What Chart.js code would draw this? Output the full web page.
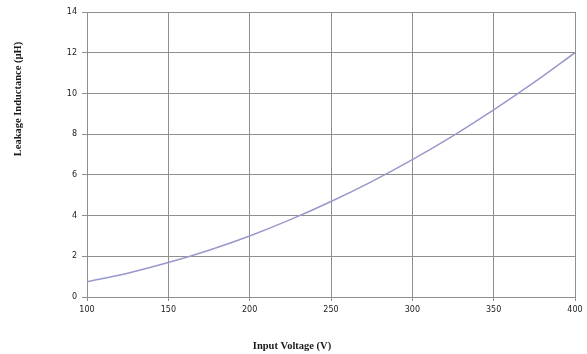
<!DOCTYPE html>
<html>
<head>
<meta charset="utf-8">
<script src="https://cdn.jsdelivr.net/npm/chart.js@4.4.1/dist/chart.umd.min.js"></script>
<style>
  html, body { margin: 0; padding: 0; background: #fff; }
  #wrap { width: 587px; height: 354px; }
</style>
</head>
<body>
<div id="wrap"><canvas id="myChart"></canvas></div>
<script>
// input voltage (V) and leakage inductance (uH)
var voltage = [100, 125, 150, 175, 200, 225, 250, 275, 300, 325, 350, 375, 400];
var inductance = [0.75, 1.17, 1.69, 2.30, 3.0, 3.80, 4.69, 5.67, 6.75, 7.92, 9.19, 10.55, 12.0];

var xTitle = "Input Voltage (V)";
var yTitle = "Leakage Inductance (\u00b5H)";

var points = voltage.map(function (v, i) {
    return { x: v, y: inductance[i] };
});

var gridColor = "#8f8f8f";
var tickFont = { family: "DejaVu Sans", size: 8 };

// axis titles placed the way the spreadsheet put them
var axisTitles = {
    id: "axisTitles",
    afterDraw: function (chart) {
        var ctx = chart.ctx;
        ctx.save();
        ctx.fillStyle = "#1a1a1a";
        ctx.font = "bold 10.5px 'Liberation Serif'";
        ctx.textAlign = "center";
        ctx.textBaseline = "middle";
        ctx.fillText(xTitle, 292, 346);
        ctx.translate(18, 99);
        ctx.rotate(-Math.PI / 2);
        ctx.fillText(yTitle, 0, 0);
        ctx.restore();
    }
};

new Chart("myChart", {
    type: "line",
    data: {
        datasets: [{
            data: points,
            borderColor: "#9898cc",
            borderWidth: 1.5,
            pointRadius: 0,
            fill: false,
            cubicInterpolationMode: "monotone"
        }]
    },
    options: {
        maintainAspectRatio: false,
        animation: false,
        layout: { padding: { top: 12, right: 12, left: 0, bottom: 0 } },
        plugins: {
            legend: { display: false },
            tooltip: { enabled: false }
        },
        scales: {
            x: {
                type: "linear",
                min: 100,
                max: 400,
                afterFit: function (scale) { scale.height = 57; },
                ticks: { stepSize: 50, color: "#1a1a1a", font: tickFont, padding: 4, maxRotation: 0 },
                grid: { color: gridColor, tickLength: 4, tickColor: gridColor },
                border: { color: gridColor }
            },
            y: {
                min: 0,
                max: 14,
                afterFit: function (scale) { scale.width = 87; },
                ticks: { stepSize: 2, color: "#1a1a1a", font: tickFont, padding: 5 },
                grid: { color: gridColor, tickLength: 5, tickColor: gridColor },
                border: { color: gridColor }
            }
        }
    },
    plugins: [axisTitles]
});
</script>
</body>
</html>
